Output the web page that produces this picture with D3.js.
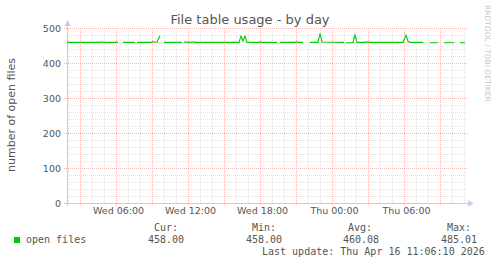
<!DOCTYPE html>
<html>
<head>
<meta charset="utf-8">
<script src="https://cdn.jsdelivr.net/npm/d3@7"></script>
<style>
    body { margin: 0; background: #fff; }
    svg { display: block; }
    text { font-family: "DejaVu Sans", sans-serif; }
    .mono { font-family: "DejaVu Sans Mono", monospace; font-size: 10px; fill: #555; }
</style>
</head>
<body>
<div id="chart"></div>
<script>

// sample times (null value = unknown / gap)
let times = [
    "04-15 01:55", "04-15 04:40", "04-15 04:47", "04-15 04:55", "04-15 06:10", "04-15 06:20",
    "04-15 06:35", "04-15 07:35", "04-15 07:40",
    "04-15 07:45", "04-15 08:55", "04-15 09:05", "04-15 09:15", "04-15 09:25", "04-15 09:40", "04-15 09:50",
    "04-15 10:00", "04-15 11:30", "04-15 11:35",
    "04-15 11:40", "04-15 11:47", "04-15 11:55", "04-15 12:15", "04-15 12:22", "04-15 12:30",
    "04-15 16:15", "04-15 16:25", "04-15 16:35", "04-15 16:45", "04-15 16:55",
    "04-15 17:55", "04-15 18:02", "04-15 18:10", "04-15 19:25", "04-15 19:30",
    "04-15 19:40", "04-15 20:55", "04-15 21:02", "04-15 21:10", "04-15 21:35", "04-15 21:50",
    "04-15 22:10", "04-15 22:50", "04-15 23:00", "04-15 23:10", "04-16 01:00", "04-16 01:05",
    "04-16 01:10", "04-16 01:45", "04-16 01:55", "04-16 02:05", "04-16 02:50", "04-16 02:57", "04-16 03:05",
    "04-16 05:55", "04-16 06:10", "04-16 06:20", "04-16 06:30", "04-16 07:35", "04-16 07:50",
    "04-16 08:10", "04-16 08:50", "04-16 09:05",
    "04-16 09:20", "04-16 09:45", "04-16 09:52", "04-16 10:00", "04-16 10:10", "04-16 10:25",
    "04-16 10:40", "04-16 11:05"
];

let openFiles = [
    459, 459, 460.5, 459, 459, null,
    459, 459, null,
    459, 459, 460.5, 460, 460, 478, null,
    459, 459, null,
    459, 460.5, 459, 459, 460.5, 459,
    459, 477, 463, 477, 459,
    459, 460.5, 459, 459, null,
    459, 459, 460.5, 459, 459, null,
    459, 459, 485, 460, 459, null,
    458, 458, 480, 459, 459, 460.5, 459,
    459, 480, 462, 459, 459, null,
    458, 458, null,
    458, 458, 460, 458, 458, null,
    458, 458
];

let yTicks = [0, 100, 200, 300, 400, 500];
let xTickLabels = ["04-15 06:00", "04-15 12:00", "04-15 18:00", "04-16 00:00", "04-16 06:00"];

let legendNames = ["Cur:", "Min:", "Avg:", "Max:"];
let legendValues = ["458.00", "458.00", "460.08", "485.01"];

let parseTime = d3.timeParse("%Y-%m-%d %H:%M");
let toDate = s => parseTime("2026-" + s);

let data = times.map((t, i) => ({time: toDate(t), value: openFiles[i]}));

let width = 497, height = 264;
let margin = {top: 28, left: 67, plotW: 400, plotH: 175};

let svg = d3.select("#chart").append("svg")
    .attr("width", width)
    .attr("height", height);

let x = d3.scaleTime()
    .domain([toDate("04-15 01:55"), toDate("04-16 11:15")])
    .range([margin.left, margin.left + margin.plotW]);

let y = d3.scaleLinear()
    .domain([0, 500])
    .range([margin.top + margin.plotH, margin.top]);

let x0 = margin.left, x1 = margin.left + margin.plotW;
let y0 = margin.top + margin.plotH, y1 = margin.top;

let minorColor = "#e2e2e2", majorColor = "#f6b4b4";

// minor grid
let grid = svg.append("g").attr("class", "grid");

grid.selectAll(".vminor")
    .data(x.ticks(d3.timeHour.every(1)).filter(d => d.getHours() % 3 !== 0))
    .enter().append("line")
    .attr("x1", d => Math.round(x(d)) + 0.5).attr("x2", d => Math.round(x(d)) + 0.5)
    .attr("y1", y1).attr("y2", y0)
    .attr("stroke", minorColor)
    .attr("stroke-dasharray", "1,1");

grid.selectAll(".hminor")
    .data(d3.range(20, 500, 20).filter(d => d % 100 !== 0))
    .enter().append("line")
    .attr("x1", x0).attr("x2", x1)
    .attr("y1", d => Math.round(y(d)) + 0.5).attr("y2", d => Math.round(y(d)) + 0.5)
    .attr("stroke", minorColor)
    .attr("stroke-dasharray", "1,1");

// major grid
grid.selectAll(".vmajor")
    .data(x.ticks(d3.timeHour.every(3)))
    .enter().append("line")
    .attr("x1", d => Math.round(x(d)) + 0.5).attr("x2", d => Math.round(x(d)) + 0.5)
    .attr("y1", y1).attr("y2", y0 + 3)
    .attr("stroke", majorColor)
    .attr("stroke-dasharray", "1,1");

grid.selectAll(".hmajor")
    .data(yTicks.filter(d => d > 0))
    .enter().append("line")
    .attr("x1", x0 - 3).attr("x2", x1)
    .attr("y1", d => Math.round(y(d)) + 0.5).attr("y2", d => Math.round(y(d)) + 0.5)
    .attr("stroke", majorColor)
    .attr("stroke-dasharray", "1,1");

// axes lines + arrows
let axisColor = "#c8c8f6";
svg.append("line")
    .attr("x1", x0 + 0.5).attr("x2", x0 + 0.5)
    .attr("y1", y0 + 3).attr("y2", 23)
    .attr("stroke", axisColor);
svg.append("line")
    .attr("x1", x0 - 3).attr("x2", 469)
    .attr("y1", y0 + 0.5).attr("y2", y0 + 0.5)
    .attr("stroke", axisColor);
svg.append("path")
    .attr("d", `M${x0 - 2.5},26 L${x0 + 3.5},26 L${x0 + 0.5},20 Z`)
    .attr("fill", axisColor);
svg.append("path")
    .attr("d", `M468,${y0 - 2.5} L468,${y0 + 3.5} L474,${y0 + 0.5} Z`)
    .attr("fill", axisColor);

// tick labels
let yAxis = d3.axisLeft(y).tickValues(yTicks).tickSize(0).tickPadding(0);
svg.append("g")
    .attr("transform", `translate(${x0 - 6},0)`)
    .call(yAxis)
    .call(g => g.select(".domain").remove())
    .selectAll("text")
    .attr("font-family", "DejaVu Sans")
    .attr("font-size", "9.5px")
    .attr("fill", "#555");

let xAxis = d3.axisBottom(x)
    .tickValues(xTickLabels.map(toDate))
    .tickFormat(d3.timeFormat("%a %H:%M"))
    .tickSize(0).tickPadding(0);
svg.append("g")
    .attr("transform", `translate(2,${y0 + 4})`)
    .call(xAxis)
    .call(g => g.select(".domain").remove())
    .selectAll("text")
    .attr("font-family", "DejaVu Sans")
    .attr("font-size", "9.5px")
    .attr("fill", "#555");

// the line
let line = d3.line()
    .defined(d => d.value !== null)
    .x(d => x(d.time))
    .y(d => y(d.value));

svg.append("path")
    .datum(data)
    .attr("d", line)
    .attr("fill", "none")
    .attr("stroke", "#00cc00")
    .attr("stroke-width", 1.1);

// titles
svg.append("text")
    .attr("x", 250)
    .attr("y", 24)
    .attr("text-anchor", "middle")
    .attr("font-size", "13px")
    .attr("fill", "#555")
    .text("File table usage - by day");

svg.append("text")
    .attr("transform", "translate(15,115) rotate(-90)")
    .attr("text-anchor", "middle")
    .attr("font-size", "11px")
    .attr("fill", "#555")
    .text("number of open files");

svg.append("text")
    .attr("transform", "translate(485,5) rotate(90)")
    .attr("font-size", "7.5px")
    .attr("fill", "#c8c8c8")
    .text("RRDTOOL / TOBI OETIKER");

// legend
svg.append("rect")
    .attr("x", 14).attr("y", 237)
    .attr("width", 6).attr("height", 6)
    .attr("fill", "#00cc00");

svg.append("text")
    .attr("class", "mono")
    .attr("x", 26).attr("y", 243)
    .text("open files");

let legX = [154, 252, 348, 447];
let valX = [148, 246, 343, 441];
legendNames.forEach((n, i) => {
    svg.append("text").attr("class", "mono")
        .attr("x", legX[i]).attr("y", 231).text(n);
    svg.append("text").attr("class", "mono")
        .attr("x", valX[i]).attr("y", 243).text(legendValues[i]);
});

svg.append("text")
    .attr("class", "mono")
    .attr("x", 262).attr("y", 255)
    .text("Last update: Thu Apr 16 11:06:10 2026");

</script>
</body>
</html>
